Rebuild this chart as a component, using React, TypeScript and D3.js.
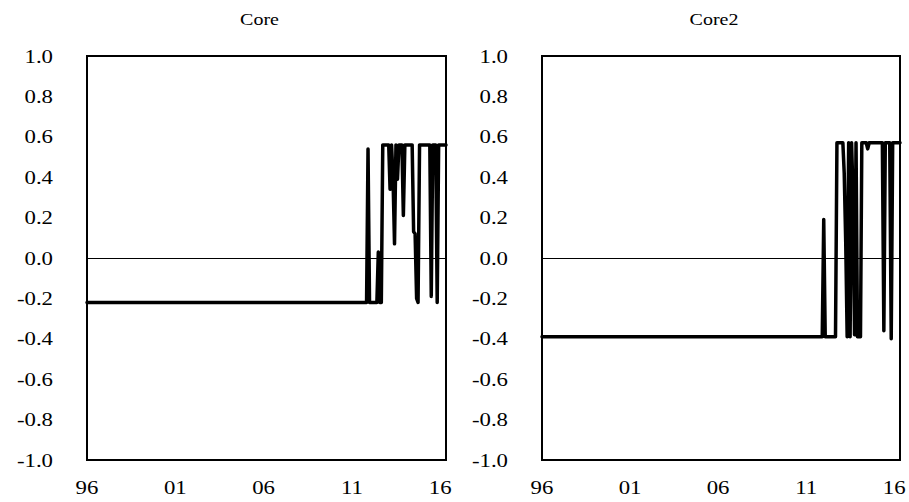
import React from "react";
import * as d3 from "d3";

// ---- data (monthly, vertices of the line) ----
const coreDates = [
  "1996-01", "2011-10", "2011-11", "2011-12", "2012-01", "2012-02", "2012-03", "2012-04", "2012-05", "2012-06",
  "2012-07", "2012-08", "2012-09", "2012-10", "2012-11", "2012-12", "2013-01", "2013-02", "2013-03", "2013-04",
  "2013-05", "2013-06", "2013-07", "2013-08", "2013-09", "2013-10", "2013-11", "2013-12", "2014-01", "2014-02",
  "2014-03", "2014-04", "2014-05", "2014-06", "2014-07", "2014-08", "2014-09", "2014-10", "2014-11", "2014-12",
  "2015-01", "2015-02", "2015-03", "2015-04", "2015-05", "2015-06", "2015-07", "2015-08", "2015-09", "2015-10",
  "2015-11", "2015-12", "2016-01", "2016-02", "2016-03", "2016-04", "2016-05",
];
const coreValues = [
  -0.22, -0.22, -0.22, 0.54, -0.22, -0.22, -0.22, -0.22, -0.22, -0.22,
  0.03, -0.22, -0.22, 0.56, 0.56, 0.56, 0.56, 0.56, 0.34, 0.56,
  0.40, 0.07, 0.56, 0.39, 0.56, 0.56, 0.56, 0.21, 0.56, 0.56,
  0.56, 0.56, 0.56, 0.56, 0.13, 0.12, -0.20, -0.22, 0.56, 0.56,
  0.56, 0.56, 0.56, 0.56, 0.56, 0.56, -0.19, 0.56, 0.56, 0.56,
  -0.22, 0.56, 0.56, 0.56, 0.56, 0.56, 0.56,
];

const core2Dates = [
  "1996-01", "2011-11", "2011-12", "2012-01", "2012-02", "2012-03", "2012-04", "2012-05", "2012-06", "2012-07",
  "2012-08", "2012-09", "2012-10", "2012-11", "2012-12", "2013-01", "2013-02", "2013-03", "2013-04", "2013-05",
  "2013-06", "2013-07", "2013-08", "2013-09", "2013-10", "2013-11", "2013-12", "2014-01", "2014-02", "2014-03",
  "2014-04", "2014-05", "2014-06", "2014-07", "2014-08", "2014-09", "2014-10", "2014-11", "2014-12", "2015-01",
  "2015-02", "2015-03", "2015-04", "2015-05", "2015-06", "2015-07", "2015-08", "2015-09", "2015-10", "2015-11",
  "2015-12", "2016-01", "2016-02", "2016-03", "2016-04", "2016-05",
];
const core2Values = [
  -0.39, -0.39, -0.39, 0.19, -0.39, -0.39, -0.39, -0.39, -0.39, -0.39,
  -0.39, -0.39, 0.57, 0.57, 0.57, 0.57, 0.57, 0.42, 0.08, -0.39,
  0.57, -0.39, 0.57, 0.30, -0.38, 0.57, -0.39, -0.39, -0.39, 0.57,
  0.57, 0.57, 0.57, 0.54, 0.57, 0.57, 0.57, 0.57, 0.57, 0.57,
  0.57, 0.57, 0.57, 0.57, -0.36, 0.57, 0.57, 0.57, 0.57, -0.40,
  0.57, 0.57, 0.57, 0.57, 0.57, 0.57,
];

const titles = ["Core", "Core2"];
const yTicks = [1.0, 0.8, 0.6, 0.4, 0.2, 0.0, -0.2, -0.4, -0.6, -0.8, -1.0];
const xTickYears = [1996, 2001, 2006, 2011, 2016];
const xStart = "1996-01";
const xEnd = "2016-05";

const parse = d3.timeParse("%Y-%m");
const FONT = "'Liberation Serif', 'Times New Roman', serif";
const STRETCH = 1.2;

type PanelProps = {
  title: string;
  dates: string[];
  values: number[];
  left: number;
  right: number;
};

function Panel({ title, dates, values, left, right }: PanelProps) {
  const top = 56;
  const bottom = 460;
  const x = d3.scaleTime().domain([parse(xStart)!, parse(xEnd)!]).range([left, right]);
  const y = d3.scaleLinear().domain([-1, 1]).range([bottom, top]);
  const pts = dates.map((d, i) => [parse(d)!, values[i]] as [Date, number]);
  const line = d3
    .line<[Date, number]>()
    .x((d) => x(d[0]))
    .y((d) => y(d[1]));
  const fmtX = d3.timeFormat("%y");
  return (
    <g>
      <text
        transform={`translate(${(left + right) / 2 - 7},25) scale(1.25,1)`}
        textAnchor="middle"
        fontFamily={FONT}
        fontSize={16}
        fill="#000"
      >
        {title}
      </text>
      <line x1={left} x2={right} y1={y(0) + 0.5} y2={y(0) + 0.5} stroke="#000" strokeWidth={1.2} />
      <path d={line(pts) || ""} fill="none" stroke="#000" strokeWidth={3.5} strokeLinejoin="round" strokeLinecap="round" />
      <rect x={left} y={top} width={right - left} height={bottom - top} fill="none" stroke="#000" strokeWidth={2} />
      {yTicks.map((t) => (
        <text
          key={t}
          transform={`translate(${left - 34},${y(t) + 6.5}) scale(${STRETCH},1)`}
          textAnchor="end"
          fontFamily={FONT}
          fontSize={19}
          fill="#000"
        >
          {t.toFixed(1)}
        </text>
      ))}
      {xTickYears.map((yr) => {
        const d = new Date(yr, 0, 1);
        return (
          <text
            key={yr}
            transform={`translate(${x(d)},${494}) scale(${STRETCH},1)`}
            textAnchor="middle"
            fontFamily={FONT}
            fontSize={19}
            fill="#000"
          >
            {fmtX(d)}
          </text>
        );
      })}
    </g>
  );
}

export default function App() {
  return (
    <svg
      width={909}
      height={502}
      style={{ position: "absolute", left: 0, top: 0, background: "#fff" }}
    >
      <rect x={0} y={0} width={909} height={502} fill="#fff" />
      <Panel title={titles[0]} dates={coreDates} values={coreValues} left={87} right={446} />
      <Panel title={titles[1]} dates={core2Dates} values={core2Values} left={542} right={900} />
    </svg>
  );
}
